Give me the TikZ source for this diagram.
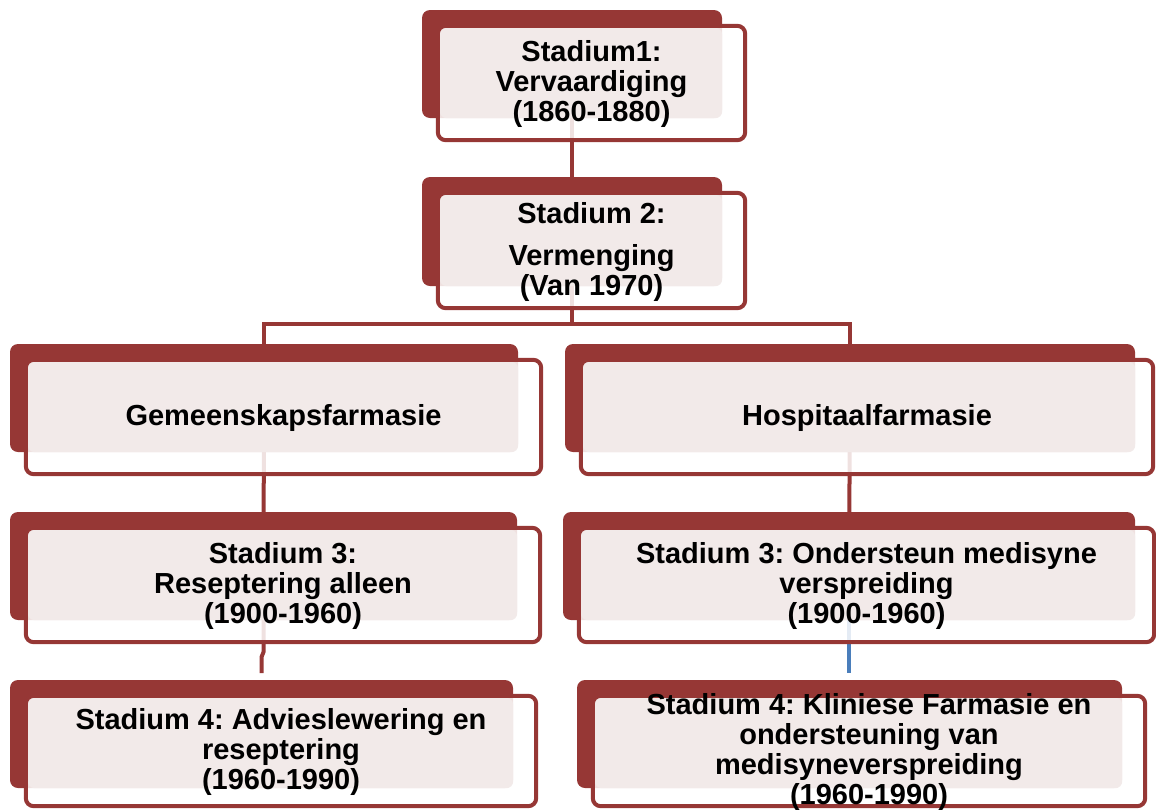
\documentclass[tikz,border=0pt]{standalone}
\usepackage{fontspec}
\setmainfont{Liberation Sans}
\usetikzlibrary{fit,calc}
\frenchspacing
\definecolor{dred}{HTML}{963735}
\definecolor{lpink}{HTML}{F2EAE9}
\definecolor{cblue}{HTML}{4A7EBB}
\pgfdeclarelayer{bg}
\pgfsetlayers{bg,main}
\newcommand\stagebox[8]{%
  \node[backbox, fit={(#2,#3) (#4,#5)}] (#1) {};
  \fill[white, fill opacity=0.85, rounded corners=8pt] ([xshift=16pt,yshift=-16pt]#1.north west) rectangle ([xshift=#6pt,yshift=-#7pt]#1.south east);
  \fill[lpink, rounded corners=7pt] ([xshift=18pt,yshift=-18pt]#1.north west) rectangle (#1.south east);
  \draw[frontbox] ([xshift=16pt,yshift=-16pt]#1.north west) rectangle ([xshift=#6pt,yshift=-#7pt]#1.south east);
  \pgfmathsetmacro\tdx{(16+#6)/2}%
  \pgfmathsetmacro\tdy{(16+#7)/2}%
  \node[lbl] (#1-t) at ($(#1.center)+(\tdx,\tdy+1)$) {#8};
}
\begin{document}
\begin{tikzpicture}[x=1pt,y=-1pt,
  backbox/.style={fill=dred, rounded corners=8pt, inner sep=0pt, draw=none},
  frontbox/.style={draw=dred, line width=4pt, rounded corners=8pt},
  conn/.style={draw=dred, line width=4pt},
  lbl/.style={font=\fontsize{29}{30}\selectfont\bfseries\frenchspacing, align=center, inner sep=0pt, text=black},
]
\useasboundingbox (0,0) rectangle (1156,809);

\stagebox{b1}{422}{10}{722}{118}{23}{22}{Stadium1:\\Vervaardiging\\(1860-1880)}
\stagebox{b2}{422}{177}{722}{286}{23}{22}{Stadium 2:\\[12pt]Vermenging\\(Van 1970)}
\stagebox{gem}{10}{344}{518}{452}{23}{22}{Gemeenskapsfarmasie}
\stagebox{hosp}{565}{344}{1135}{452}{18}{22}{Hospitaalfarmasie}
\stagebox{s3a}{10}{512}{517}{620}{23}{22}{Stadium 3:\\Reseptering alleen\\(1900-1960)}
\stagebox{s3b}{563}{512}{1135}{620}{19}{22}{Stadium 3: Ondersteun medisyne\\verspreiding\\(1900-1960)}
\stagebox{s4a}{10}{680}{513}{788}{23}{18}{Stadium 4: Advieslewering en\\reseptering\\(1960-1990)}
\stagebox{s4b}{577}{680}{1122}{788}{23}{18}{Stadium 4: Kliniese Farmasie en\\ondersteuning van\\medisyneverspreiding\\(1960-1990)}

\coordinate (bus) at (572,324);
\coordinate (k1) at (0,652);
\coordinate (k2) at (0,657);
\coordinate (k3) at (0,673);

\begin{pgfonlayer}{bg}
\draw[conn] (b1.center) -- (b2.center);
\draw[conn] (b2.center) -- (bus);
\draw[conn] (gem.center) |- (bus) -| (hosp.center);
\draw[conn] (gem.center) -- (s3a.center);
\draw[conn] (hosp.center) -- (s3b.center);
\draw[conn] (s3a.center) -- (s3a.center |- k1) -- (s4a.center |- k2) -- (s4a.center |- k3);
\draw[conn, draw=cblue] (s3b.center) -- (s3b.center |- k3);
\end{pgfonlayer}
\end{tikzpicture}
\end{document}
